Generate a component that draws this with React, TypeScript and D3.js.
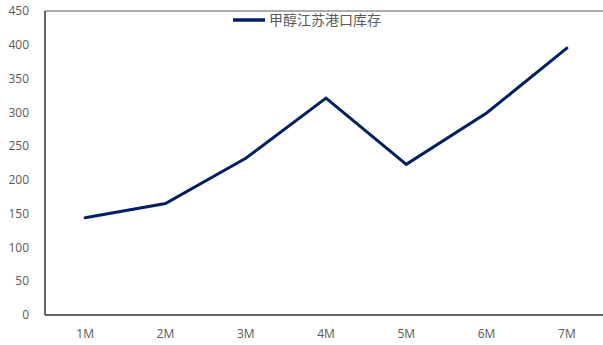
import React from "react";
import * as d3 from "d3";

const categories = ["1M", "2M", "3M", "4M", "5M", "6M", "7M"];
const values = [144, 165, 232, 321, 223, 299, 395];
const yTicks = [0, 50, 100, 150, 200, 250, 300, 350, 400, 450];
const seriesName = "甲醇江苏港口库存";

export default function App() {
  const W = 603, H = 345;
  const left = 45, right = 607, top = 11, bottom = 315;
  const x = d3.scaleBand<string>().domain(categories).range([left, right]);
  const y = d3.scaleLinear().domain([0, 450]).range([bottom, top]);
  const line = d3
    .line<number>()
    .x((_, i) => (x(categories[i]) as number) + x.bandwidth() / 2)
    .y((d) => y(d));
  const font = "'Open Sans', 'Liberation Sans', sans-serif";
  return (
    <svg width={W} height={H} style={{ position: "absolute", left: 0, top: 0, background: "#fff" }}>
      <line x1={left} x2={W} y1={top} y2={top} stroke="#595959" strokeWidth={1} />
      <line x1={left} x2={left} y1={top} y2={bottom} stroke="#333" strokeWidth={1.5} />
      <line x1={left} x2={W} y1={bottom} y2={bottom} stroke="#333" strokeWidth={1.5} />
      {yTicks.map((t) => (
        <text key={t} x={29} y={y(t)} dy="0.35em" textAnchor="end" fontSize={12} fill="#595959" fontFamily={font}>
          {t}
        </text>
      ))}
      {categories.map((c) => (
        <text key={c} x={(x(c) as number) + x.bandwidth() / 2} y={334} dy="0.35em" textAnchor="middle" fontSize={12} fill="#595959" fontFamily={font}>
          {c}
        </text>
      ))}
      <path d={line(values) || ""} fill="none" stroke="#002060" strokeWidth={3} strokeLinejoin="miter" strokeLinecap="round" />
      <line x1={233} x2={265} y1={20} y2={20} stroke="#002060" strokeWidth={3.5} />
      <text x={269} y={20} dy="0.35em" fontSize={14} fill="#595959" fontFamily="'Noto Sans CJK SC', sans-serif">
        {seriesName}
      </text>
    </svg>
  );
}
